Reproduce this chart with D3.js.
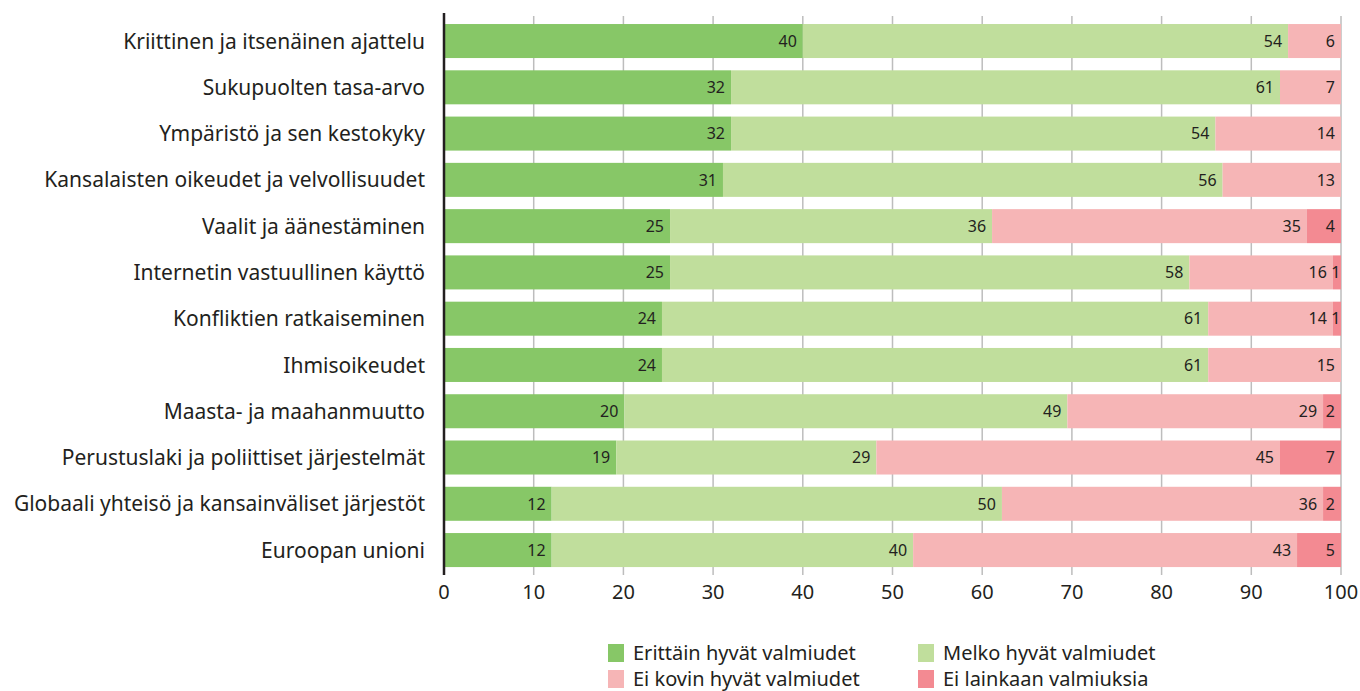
<!DOCTYPE html>
<html>
<head>
<meta charset="utf-8">
<script src="https://cdn.jsdelivr.net/npm/d3@7"></script>
<style>
  body { margin: 0; background: #fff; }
  text { font-family: "Noto Sans", "Open Sans", sans-serif; fill: #231f20; }
</style>
</head>
<body>
<script>
// categories, top to bottom
var categories = [
    "Kriittinen ja itsenäinen ajattelu",
    "Sukupuolten tasa-arvo",
    "Ympäristö ja sen kestokyky",
    "Kansalaisten oikeudet ja velvollisuudet",
    "Vaalit ja äänestäminen",
    "Internetin vastuullinen käyttö",
    "Konfliktien ratkaiseminen",
    "Ihmisoikeudet",
    "Maasta- ja maahanmuutto",
    "Perustuslaki ja poliittiset järjestelmät",
    "Globaali yhteisö ja kansainväliset järjestöt",
    "Euroopan unioni"
];
var seriesNames = ["Erittäin hyvät valmiudet", "Melko hyvät valmiudet", "Ei kovin hyvät valmiudet", "Ei lainkaan valmiuksia"];
var erittain = [40.0, 32.0, 32.0, 31.1, 25.2, 25.2, 24.3, 24.3, 20.1, 19.2, 12.0, 12.0];
var melko    = [54.1, 61.2, 54.0, 55.7, 35.9, 57.9, 60.9, 60.9, 49.4, 29.0, 50.2, 40.3];
var eiKovin  = [5.9, 6.8, 14.0, 13.2, 35.1, 16.0, 13.9, 14.8, 28.5, 45.0, 35.8, 42.8];
var eiLainkaan = [0, 0, 0, 0, 3.8, 0.9, 0.9, 0, 2.0, 6.8, 2.0, 4.9];
var ticks = [0, 10, 20, 30, 40, 50, 60, 70, 80, 90, 100];
var colors = ["#87c767", "#c0de9c", "#f6b5b6", "#f38a92"];

var width = 1360, height = 691;
var svg = d3.select("body").append("svg")
    .attr("width", width)
    .attr("height", height);

var x = d3.scaleLinear().domain([0, 100]).range([444, 1341]);
var y = d3.scaleBand().domain(categories).range([17.9, 573.2])
    .paddingInner(0.265).paddingOuter(0.1325);

var rows = categories.map(function (c, i) {
    return {cat: c, v0: erittain[i], v1: melko[i], v2: eiKovin[i], v3: eiLainkaan[i]};
});
var stack = d3.stack().keys(["v0", "v1", "v2", "v3"])(rows);

// gridlines
svg.append("g").selectAll("line")
    .data(ticks.slice(1))
    .enter().append("line")
    .attr("x1", function (d) { return x(d); })
    .attr("x2", function (d) { return x(d); })
    .attr("y1", 16).attr("y2", 575)
    .style("stroke", "#bdbdbd")
    .style("stroke-width", 1.5);

// bars
var layers = svg.append("g").selectAll("g")
    .data(stack)
    .enter().append("g")
    .style("fill", function (d, i) { return colors[i]; });

layers.selectAll("rect")
    .data(function (d) { return d; })
    .enter().append("rect")
    .attr("x", function (d) { return x(d[0]); })
    .attr("y", function (d) { return y(d.data.cat); })
    .attr("width", function (d) { return x(d[1]) - x(d[0]); })
    .attr("height", y.bandwidth());

// value labels
layers.selectAll("text")
    .data(function (d) { return d.filter(function (s) { return s[1] - s[0] > 0; }); })
    .enter().append("text")
    .attr("x", function (d) { return x(d[1]) - (d[1] - d[0] < 1.5 ? 0.5 : 6); })
    .attr("y", function (d) { return y(d.data.cat) + y.bandwidth() / 2; })
    .attr("dy", "0.36em")
    .attr("text-anchor", "end")
    .style("font-size", "16px")
    .style("fill", "#231f20")
    .text(function (d) { return Math.round(d[1] - d[0]); });

// category labels
svg.append("g").selectAll("text")
    .data(categories)
    .enter().append("text")
    .attr("x", 425)
    .attr("y", function (d) { return y(d) + y.bandwidth() / 2; })
    .attr("dy", "0.36em")
    .attr("text-anchor", "end")
    .style("font-size", "21px")
    .text(function (d) { return d; });

// axis line
svg.append("line")
    .attr("x1", x(0)).attr("x2", x(0))
    .attr("y1", 13).attr("y2", 575)
    .style("stroke", "#231f20")
    .style("stroke-width", 2.5);

// tick labels
svg.append("g").selectAll("text")
    .data(ticks)
    .enter().append("text")
    .attr("x", function (d) { return x(d); })
    .attr("y", 599)
    .attr("text-anchor", "middle")
    .style("font-size", "20px")
    .text(function (d) { return d; });

// legend
var legendPos = [[608, 644], [918, 644], [608, 670], [918, 670]];
var legend = svg.append("g").selectAll("g")
    .data(seriesNames)
    .enter().append("g")
    .attr("transform", function (d, i) { return "translate(" + legendPos[i][0] + "," + legendPos[i][1] + ")"; });
legend.append("rect")
    .attr("width", 16).attr("height", 18)
    .style("fill", function (d, i) { return colors[i]; });
legend.append("text")
    .attr("x", 25).attr("y", 16)
    .style("font-size", "20px")
    .text(function (d) { return d; });
</script>
</body>
</html>
